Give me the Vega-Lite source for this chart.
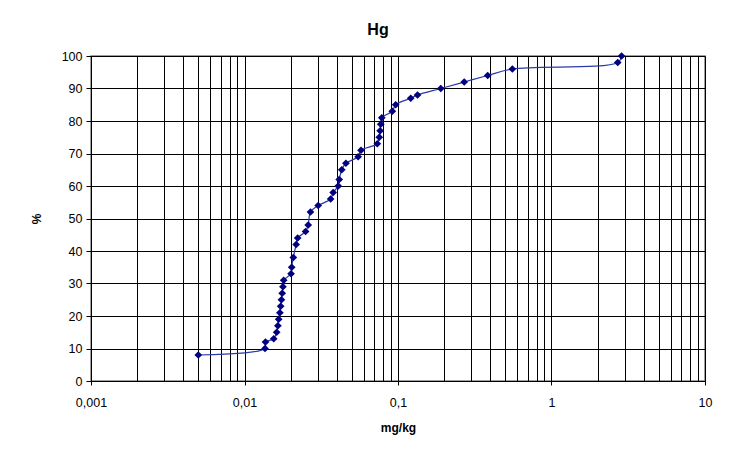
{
  "$schema": "https://vega.github.io/schema/vega-lite/v6.json",
  "autosize": {"type": "none"},
  "padding": {"left": 91, "top": 56, "right": 41, "bottom": 69},
  "width": 614,
  "height": 325,
  "background": "white",
  "title": {"text": "Hg", "font": "Liberation Sans", "fontSize": 16, "fontWeight": "bold", "color": "black", "offset": 12, "dx": -20},
  "data": {"values": [
    {"mgkg": 0.005, "pct": 8},
    {"mgkg": 0.0136, "pct": 10},
    {"mgkg": 0.0137, "pct": 12},
    {"mgkg": 0.0155, "pct": 13},
    {"mgkg": 0.0162, "pct": 15},
    {"mgkg": 0.0165, "pct": 17},
    {"mgkg": 0.0167, "pct": 19},
    {"mgkg": 0.017, "pct": 21},
    {"mgkg": 0.0172, "pct": 23},
    {"mgkg": 0.0174, "pct": 25},
    {"mgkg": 0.0176, "pct": 27},
    {"mgkg": 0.0178, "pct": 29},
    {"mgkg": 0.018, "pct": 31},
    {"mgkg": 0.0201, "pct": 33},
    {"mgkg": 0.0203, "pct": 35},
    {"mgkg": 0.0208, "pct": 38},
    {"mgkg": 0.0217, "pct": 42},
    {"mgkg": 0.0222, "pct": 44},
    {"mgkg": 0.025, "pct": 46},
    {"mgkg": 0.026, "pct": 48},
    {"mgkg": 0.0269, "pct": 52},
    {"mgkg": 0.0302, "pct": 54},
    {"mgkg": 0.0364, "pct": 56},
    {"mgkg": 0.0378, "pct": 58},
    {"mgkg": 0.0408, "pct": 60},
    {"mgkg": 0.0414, "pct": 62},
    {"mgkg": 0.043, "pct": 65},
    {"mgkg": 0.0458, "pct": 67},
    {"mgkg": 0.055, "pct": 69},
    {"mgkg": 0.0574, "pct": 71},
    {"mgkg": 0.0733, "pct": 73},
    {"mgkg": 0.0755, "pct": 75},
    {"mgkg": 0.0765, "pct": 77},
    {"mgkg": 0.0772, "pct": 79},
    {"mgkg": 0.0784, "pct": 81},
    {"mgkg": 0.0918, "pct": 83},
    {"mgkg": 0.0966, "pct": 85},
    {"mgkg": 0.121, "pct": 87},
    {"mgkg": 0.134, "pct": 88},
    {"mgkg": 0.19, "pct": 90},
    {"mgkg": 0.27, "pct": 92},
    {"mgkg": 0.384, "pct": 94},
    {"mgkg": 0.556, "pct": 96},
    {"mgkg": 2.7, "pct": 98},
    {"mgkg": 2.86, "pct": 100}
  ]},
  "encoding": {
    "x": {
      "field": "mgkg", "type": "quantitative",
      "scale": {"type": "log", "domain": [0.001, 10], "nice": false},
      "axis": {
        "title": "mg/kg",
        "values": [0.001,0.002,0.003,0.004,0.005,0.006,0.007,0.008,0.009,0.01,0.02,0.03,0.04,0.05,0.06,0.07,0.08,0.09,0.1,0.2,0.3,0.4,0.5,0.6,0.7,0.8,0.9,1,2,3,4,5,6,7,8,9,10],
        "labelExpr": "datum.value == 0.001 ? '0,001' : datum.value == 0.01 ? '0,01' : datum.value == 0.1 ? '0,1' : datum.value == 1 ? '1' : datum.value == 10 ? '10' : ''",
        "tickOpacity": {"condition": {"test": "indexof([0.001,0.01,0.1,1,10], datum.value) >= 0", "value": 1}, "value": 0},
        "tickSize": 4,
        "labelFlush": false,
        "labelOverlap": false,
        "labelPadding": 11,
        "labelFontSize": 12.5,
        "titlePadding": 14
      }
    },
    "y": {
      "field": "pct", "type": "quantitative",
      "scale": {"domain": [0, 100], "nice": false},
      "axis": {"title": "%", "values": [0,10,20,30,40,50,60,70,80,90,100], "tickSize": 5, "labelPadding": 4, "labelFontSize": 12.5, "labelFlush": false, "titlePadding": 18}
    },
    "order": {"field": "pct", "type": "quantitative"}
  },
  "layer": [
    {"mark": {"type": "line", "interpolate": "catmull-rom", "color": "#2a3aa8", "strokeWidth": 1.2}},
    {"mark": {"type": "point", "shape": "diamond", "filled": true, "color": "#000080", "opacity": 1, "size": 60}}
  ],
  "config": {
    "view": {"stroke": "#808080", "strokeWidth": 1.5},
    "axis": {
      "grid": true,
      "gridColor": "#000000",
      "gridOpacity": 1,
      "gridWidth": 1,
      "domainColor": "#000000",
      "tickColor": "#000000",
      "labelFont": "Liberation Sans",
      "labelFontSize": 12,
      "labelColor": "#000000",
      "titleFont": "Liberation Sans",
      "titleFontSize": 12,
      "titleFontWeight": "bold",
      "titleColor": "#000000"
    }
  }
}
